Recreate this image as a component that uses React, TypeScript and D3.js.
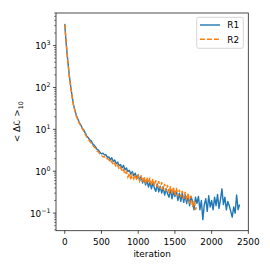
import React from "react"
import * as d3 from "d3"

const step = 20

// R1: every 20 iterations from 0
const r1Values = [
  3300, 1100, 460, 210, 110, 62, 38, 28, 21, 17.5,
  14.2, 12.6, 10.5, 9.6, 8.1, 6.9, 6.3, 5.6, 5.3, 4.5,
  4.2, 3.8, 3.3, 3.2, 2.8, 2.6, 2.7, 2.45, 2.5, 2.15,
  2.2, 1.85, 2.1, 1.7, 1.85, 1.5, 1.65, 1.35, 1.45, 1.2,
  1.38, 1.08, 1.2, 0.98, 1.05, 0.85, 0.98, 0.78, 0.9, 0.68,
  0.82, 0.6, 0.75, 0.52, 0.66, 0.47, 0.6, 0.42, 0.55, 0.38,
  0.52, 0.4, 0.33, 0.5, 0.32, 0.44, 0.3, 0.42, 0.27, 0.38,
  0.29, 0.24, 0.37, 0.22, 0.33, 0.25, 0.35, 0.2, 0.3, 0.19,
  0.3, 0.18, 0.27, 0.17, 0.26, 0.15, 0.25, 0.19, 0.12, 0.24,
  0.17, 0.25, 0.12, 0.2, 0.07, 0.16, 0.22, 0.11, 0.26, 0.14,
  0.2, 0.12, 0.24, 0.15, 0.28, 0.13, 0.21, 0.38, 0.16, 0.24,
  0.12, 0.19, 0.15, 0.11, 0.08, 0.14, 0.1, 0.27, 0.12, 0.16,
]

// R2: every 20 iterations from 0 to 1800
const r2Values = [
  3200, 1150, 440, 200, 105, 60, 37, 27, 20, 16.5,
  13.8, 12, 10.2, 9, 7.6, 6.5, 5.9, 5.2, 4.7, 4.2,
  3.8, 3.5, 3.0, 2.9, 2.5, 2.4, 2.2, 2.25, 1.95, 2.0,
  1.9, 1.6, 1.75, 1.4, 1.55, 1.25, 1.4, 1.1, 1.25, 0.98,
  1.1, 0.85, 0.98, 0.72, 0.9, 0.62, 0.85, 0.66, 0.82, 0.6,
  0.78, 0.58, 0.8, 0.55, 0.74, 0.5, 0.72, 0.52, 0.7, 0.46,
  0.66, 0.45, 0.6, 0.42, 0.58, 0.38, 0.55, 0.36, 0.5, 0.33,
  0.47, 0.3, 0.44, 0.28, 0.42, 0.27, 0.4, 0.25, 0.36, 0.24,
  0.34, 0.22, 0.32, 0.2, 0.3, 0.17, 0.26, 0.14, 0.2, 0.12,
  0.15,
]

const xTicks = [0, 500, 1000, 1500, 2000, 2500]
const yTickExps = [-1, 0, 1, 2, 3]
const seriesNames = ["R1", "R2"]
const colors = ["#1f77b4", "#ff7f0e"]

const W = 270
const H = 270
const left = 56
const top = 13
const right = 248.3
const bottom = 230.7
const font = "DejaVu Sans"
const fs = 8.9
const lw = 1.4

const App = () => {
  const x = d3.scaleLinear().domain([-119, 2499]).range([left, right])
  const y = d3.scaleLog().domain([0.038, 6000]).range([bottom, top])

  const line = d3
    .line<number>()
    .x((_, i) => x(i * step))
    .y((v) => y(v))

  const minor: number[] = []
  for (let e = -2; e <= 3; e++) {
    for (let k = 2; k <= 9; k++) {
      const v = k * Math.pow(10, e)
      if (v >= 0.038 && v <= 6000) minor.push(v)
    }
  }

  return (
    <svg
      width={W}
      height={H}
      style={{ position: "absolute", left: 0, top: 0 }}
      fontFamily={font}
    >
      <rect width={W} height={H} fill="white" />
      <defs>
        <clipPath id="plot">
          <rect x={left} y={top} width={right - left} height={bottom - top} />
        </clipPath>
      </defs>
      <g clipPath="url(#plot)">
        <path
          d={line(r1Values) || ""}
          fill="none"
          stroke={colors[0]}
          strokeWidth={lw}
          strokeLinejoin="round"
        />
        <path
          d={line(r2Values) || ""}
          fill="none"
          stroke={colors[1]}
          strokeWidth={lw}
          strokeDasharray="4.9,2.1"
        />
      </g>
      <rect
        x={left}
        y={top}
        width={right - left}
        height={bottom - top}
        fill="none"
        stroke="#222"
        strokeWidth={0.8}
      />
      {xTicks.map((t) => (
        <g key={t}>
          <line x1={x(t)} x2={x(t)} y1={bottom} y2={bottom + 3.1} stroke="#222" strokeWidth={0.8} />
          <text x={x(t)} y={bottom + 14.3} textAnchor="middle" fontSize={fs} fill="#000">
            {t}
          </text>
        </g>
      ))}
      {minor.map((v) => (
        <line key={v} x1={left - 1.8} x2={left} y1={y(v)} y2={y(v)} stroke="#222" strokeWidth={0.6} />
      ))}
      {yTickExps.map((e) => (
        <g key={e}>
          <line x1={left - 3.1} x2={left} y1={y(Math.pow(10, e))} y2={y(Math.pow(10, e))} stroke="#222" strokeWidth={0.8} />
          <text x={left - 5.5} y={y(Math.pow(10, e)) + 3.4} textAnchor="end" fontSize={fs} fill="#000">
            10
            <tspan dy={-3.6} fontSize={6.3}>
              {e < 0 ? "\u2212" + Math.abs(e) : e}
            </tspan>
          </text>
        </g>
      ))}
      <text x={(left + right) / 2} y={257} textAnchor="middle" fontSize={fs} fill="#000">
        iteration
      </text>
      <text
        transform={`translate(20,${(top + bottom) / 2}) rotate(-90)`}
        textAnchor="middle"
        fontSize={fs}
        fill="#000"
      >
        {"< Δ"}
        <tspan fontStyle="italic">ℒ</tspan>
        {" >"}
        <tspan dy={2.5} fontSize={6.3}>10</tspan>
      </text>
      <g>
        <rect x={196.7} y={17.3} width={46.6} height={31} rx={2} fill="white" fillOpacity={0.8} stroke="#ccc" strokeWidth={0.8} />
        {seriesNames.map((n, i) => (
          <g key={n}>
            <line
              x1={200}
              x2={220}
              y1={25 + i * 14.3}
              y2={25 + i * 14.3}
              stroke={colors[i]}
              strokeWidth={lw}
              strokeDasharray={i === 1 ? "4.9,2.1" : undefined}
            />
            <text x={227.3} y={28.2 + i * 14.3} fontSize={fs} fill="#000">
              {n}
            </text>
          </g>
        ))}
      </g>
    </svg>
  )
}

export default App
